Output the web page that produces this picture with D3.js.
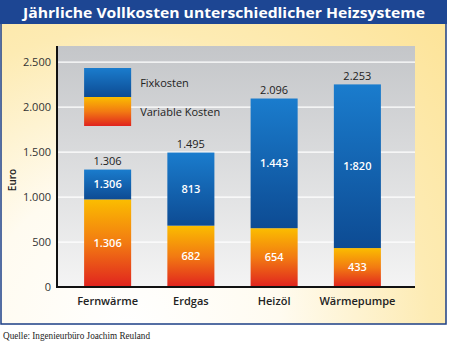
<!DOCTYPE html>
<html><head><meta charset="utf-8">
<script src="https://cdn.jsdelivr.net/npm/d3@7"></script>
<style>body{margin:0;background:#fff}svg{display:block}</style>
</head><body><svg id="c" width="450" height="352"></svg>
<script>
const categories = ["Fernwärme", "Erdgas", "Heizöl", "Wärmepumpe"];
const fixedValues = [332, 813, 1442, 1820];
const variableValues = [974, 682, 654, 433];
const totalLabels = ["1.306", "1.495", "2.096", "2.253"];
const fixedLabels = ["1.306", "813", "1.443", "1:820"];
const variableLabels = ["1.306", "682", "654", "433"];
const yTicks = [0, 500, 1000, 1500, 2000, 2500];
const legendLabels = ["Fixkosten", "Variable Kosten"];
const titleText = "Jährliche Vollkosten unterschiedlicher Heizsysteme";
const yAxisTitle = "Euro";
const sourceText = "Quelle: Ingenieurbüro Joachim Reuland";

(function () {
const de = d3.formatLocale({decimal: ",", thousands: ".", grouping: [3], currency: ["", "€"]});
const fmt = de.format(",");

const svg = d3.select("#c");
const defs = svg.append("defs");
const FONT = "'Open Sans', 'Noto Sans', sans-serif";

// gradients
const bg = defs.append("radialGradient").attr("id", "bg").attr("gradientUnits", "userSpaceOnUse")
  .attr("cx", 130).attr("cy", 330).attr("r", 430);
bg.append("stop").attr("offset", 0).attr("stop-color", "#ffffff");
bg.append("stop").attr("offset", 0.35).attr("stop-color", "#fffbf0");
bg.append("stop").attr("offset", 0.7).attr("stop-color", "#fdebb3");
bg.append("stop").attr("offset", 1).attr("stop-color", "#fde49a");

const pg = defs.append("linearGradient").attr("id", "pg").attr("x1", 0).attr("y1", 0).attr("x2", 0).attr("y2", 1);
pg.append("stop").attr("offset", 0).attr("stop-color", "#c4c6c9");
pg.append("stop").attr("offset", 1).attr("stop-color", "#f4f4f4");

const blue = defs.append("linearGradient").attr("id", "blue").attr("x1", 0).attr("y1", 0).attr("x2", 0).attr("y2", 1);
blue.append("stop").attr("offset", 0).attr("stop-color", "#1a7ccd");
blue.append("stop").attr("offset", 1).attr("stop-color", "#0d4b93");

const orange = defs.append("linearGradient").attr("id", "orange").attr("x1", 0).attr("y1", 0).attr("x2", 0).attr("y2", 1);
orange.append("stop").attr("offset", 0).attr("stop-color", "#fbbd00");
orange.append("stop").attr("offset", 0.5).attr("stop-color", "#f27a12");
orange.append("stop").attr("offset", 1).attr("stop-color", "#e0231f");

// frame & title
svg.append("rect").attr("x", 1).attr("y", 0).attr("width", 445).attr("height", 324)
  .attr("fill", "url(#bg)").attr("stroke", "#1d3f86").attr("stroke-width", 1.5);
svg.append("rect").attr("x", 0).attr("y", 0).attr("width", 447).attr("height", 24).attr("fill", "#1d4693");
svg.append("text").attr("x", 224).attr("y", 17.5).attr("text-anchor", "middle")
  .attr("fill", "#fff").attr("font-family", FONT).attr("font-weight", "bold").attr("font-size", 15)
  .attr("textLength", 402).attr("lengthAdjust", "spacingAndGlyphs").text(titleText);

// scales
const pLeft = 57, pRight = 415, pTop = 46, pBottom = 287;
const y = d3.scaleLinear().domain([0, 2680]).range([pBottom, pTop]);
const x = d3.scaleBand().domain(categories).range([66, 399]).paddingInner(0.435).paddingOuter(0.2175);

// plot area
svg.append("rect").attr("x", pLeft).attr("y", pTop).attr("width", pRight - pLeft).attr("height", pBottom - pTop).attr("fill", "url(#pg)");

// grid
svg.append("g").selectAll("line").data(yTicks.filter(d => d > 0)).join("line")
  .attr("x1", pLeft).attr("x2", pRight).attr("y1", d => y(d)).attr("y2", d => y(d))
  .attr("stroke", "#ffffff").attr("stroke-width", 1.2);

// y axis
const yAxis = d3.axisLeft(y).tickValues(yTicks).tickSize(0).tickPadding(6).tickFormat(fmt);
const ga = svg.append("g").attr("transform", `translate(${pLeft},0)`).call(yAxis);
ga.select(".domain").remove();
ga.selectAll("text").attr("font-family", FONT).attr("font-size", 11).attr("fill", "#333");

svg.append("text").attr("transform", `translate(16,180) rotate(-90)`).attr("text-anchor", "middle")
  .attr("font-family", FONT).attr("font-size", 10).attr("font-weight", 600).attr("fill", "#222").text(yAxisTitle);

// legend
const lx = x(categories[0]), lw = x.bandwidth();
const legendFills = ["url(#blue)", "url(#orange)"];
const legY = [68, 97];
const lg = svg.append("g");
lg.selectAll("rect").data(legendLabels).join("rect")
  .attr("x", lx).attr("y", (d, i) => legY[i]).attr("width", lw).attr("height", 29)
  .attr("fill", (d, i) => legendFills[i]);
lg.selectAll("text").data(legendLabels).join("text")
  .attr("x", lx + lw + 9).attr("y", (d, i) => legY[i] + 15).attr("dy", "0.35em")
  .attr("font-family", FONT).attr("font-size", 11).attr("fill", "#222").text(d => d);

// bars
const data = categories.map((c, i) => ({c, f: fixedValues[i], v: variableValues[i], t: totalLabels[i], fl: fixedLabels[i], vl: variableLabels[i]}));
const bars = svg.append("g");
bars.selectAll("rect.v").data(data).join("rect").attr("class", "v")
  .attr("x", d => x(d.c)).attr("width", x.bandwidth())
  .attr("y", d => y(d.v)).attr("height", d => y(0) - y(d.v)).attr("fill", "url(#orange)");
bars.selectAll("rect.f").data(data).join("rect").attr("class", "f")
  .attr("x", d => x(d.c)).attr("width", x.bandwidth())
  .attr("y", d => y(d.v + d.f)).attr("height", d => y(d.v) - y(d.v + d.f)).attr("fill", "url(#blue)");

const cx = d => x(d.c) + x.bandwidth() / 2;
bars.selectAll("text.t").data(data).join("text").attr("class", "t")
  .attr("x", cx).attr("y", d => y(d.v + d.f) - 8).attr("dy", "0.35em").attr("text-anchor", "middle")
  .attr("font-family", FONT).attr("font-size", 11).attr("fill", "#222").text(d => d.t);
bars.selectAll("text.fl").data(data).join("text").attr("class", "fl")
  .attr("x", cx).attr("y", d => (y(d.v) + y(d.v + d.f)) / 2).attr("dy", "0.35em").attr("text-anchor", "middle")
  .attr("font-family", FONT).attr("font-size", 11).attr("font-weight", 600).attr("fill", "#fff").text(d => d.fl);
bars.selectAll("text.vl").data(data).join("text").attr("class", "vl")
  .attr("x", cx).attr("y", d => (y(0) + y(d.v)) / 2).attr("dy", "0.35em").attr("text-anchor", "middle")
  .attr("font-family", FONT).attr("font-size", 11).attr("font-weight", 600).attr("fill", "#fff").text(d => d.vl);

// axis lines
svg.append("line").attr("x1", pLeft).attr("x2", pLeft).attr("y1", pTop).attr("y2", pBottom + 1)
  .attr("stroke", "#111").attr("stroke-width", 2);
svg.append("line").attr("x1", pLeft - 1).attr("x2", pRight).attr("y1", pBottom).attr("y2", pBottom)
  .attr("stroke", "#111").attr("stroke-width", 2);

// x labels
const xAxis = d3.axisBottom(x).tickSize(0).tickPadding(10);
const gx = svg.append("g").attr("transform", `translate(0,${pBottom})`).call(xAxis);
gx.select(".domain").remove();
gx.selectAll("text").attr("font-family", FONT).attr("font-size", 11).attr("font-weight", 600).attr("fill", "#222");

// source
svg.append("text").attr("x", 3).attr("y", 339).attr("font-family", "'Liberation Serif', 'DejaVu Serif', serif")
  .attr("font-size", 10).attr("fill", "#222").attr("textLength", 147).attr("lengthAdjust", "spacingAndGlyphs").text(sourceText);
})();
</script></body></html>
